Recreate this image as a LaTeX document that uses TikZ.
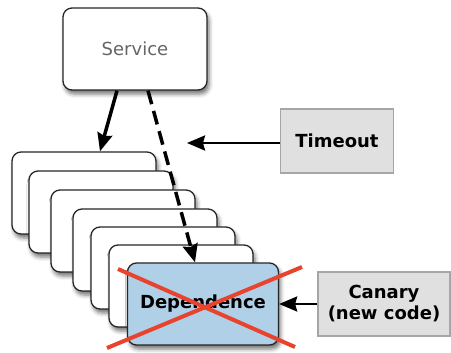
\documentclass[tikz,border=0pt]{standalone}
\usepackage{fontspec}
\setmainfont{DejaVu Sans}
\usetikzlibrary{arrows.meta}
\usetikzlibrary{shadows.blur}
\definecolor{depblue}{RGB}{176,208,232}
\definecolor{crossred}{RGB}{232,67,45}

\begin{document}
\begin{tikzpicture}[x=1pt,y=-1pt,
  card/.style={draw=black!85,line width=1.3pt,rounded corners=9pt,fill=white,
    minimum width=144pt,minimum height=82pt,
    blur shadow={shadow xshift=2pt,shadow yshift=-4pt,shadow blur radius=4pt,shadow opacity=55}},
  tag/.style={draw=black!35,line width=1.2pt,fill=black!12,align=center,
    font=\bfseries\fontsize{18}{21}\selectfont},
  arr/.style={-{Stealth[length=18pt,width=15pt,inset=2pt]}}]

\useasboundingbox (0,0) rectangle (451,353);

\node[card,font=\fontsize{18}{21}\selectfont,text=black!60] (service) at (135,49) {Service};

\node[card] (c1) at (84,193) {};
\node[card] (c2) at (101,212) {};
\node[card] (c3) at (123,231) {};
\node[card] (c4) at (145,250) {};
\node[card] (c5) at (163,268) {};
\node[card] (c6) at (181,286) {};
\node[card,fill=depblue,minimum width=151pt,font=\bfseries\fontsize{18}{21}\selectfont] (dep) at (203,304) {Dependence};

\node[tag,minimum width=113pt,minimum height=64pt] (timeout) at (337,141) {Timeout};
\node[tag,minimum width=132pt,minimum height=64pt] (canary) at (384,304) {Canary\\(new code)};
\coordinate (stop) at (187,143);

\draw [arr,line width=3.5pt] ([xshift=-18pt]service.south) -- ([xshift=16pt]c1.north);
\draw [arr,line width=3.5pt,dash pattern=on 14pt off 7pt] ([xshift=13pt]service.south) -- ([xshift=-8pt]dep.north);
\draw [arr,line width=2.5pt] (timeout.west |- stop) -- (stop);
\draw [arr,line width=2.5pt] (canary.west) -- (dep.east);

% the cross over the failed dependence
\draw [crossred,line width=4pt] (118,269) -- (295,347);
\draw [crossred,line width=4pt] (302,267) -- (107,348);
\end{tikzpicture}
\end{document}
